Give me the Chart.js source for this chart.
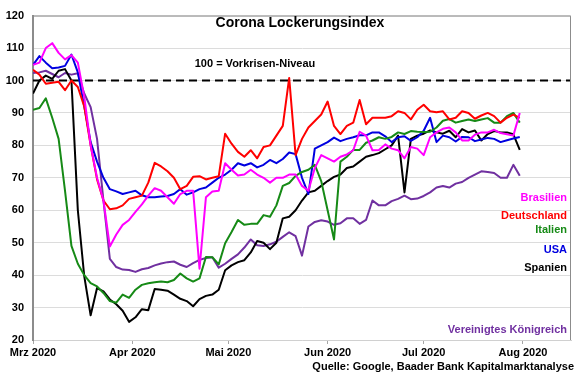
<!DOCTYPE html>
<html>
<head>
<meta charset="utf-8">
<script src="https://cdn.jsdelivr.net/npm/chart.js@4.4.1/dist/chart.umd.min.js"></script>
<style>
  html, body { margin: 0; padding: 0; background: #fff; }
  #wrap { width: 580px; height: 375px; }
</style>
</head>
<body>
<div id="wrap"><canvas id="lockerungChart" width="580" height="375"></canvas></div>
<script>
// Tage seit 1. März 2020 (jeder zweite Tag)
const days = []
for (let d = 0; d <= 152; d += 2) days.push(d)

const monthDays = [0, 31, 61, 92, 122, 153]
const monthLabels = ['Mrz 2020', 'Apr 2020', 'Mai 2020', 'Jun 2020', 'Jul 2020', 'Aug 2020']

const brasilien = [104.8, 105.5, 110, 111.5, 108.5, 106.5, 107.8, 105.5, 95, 80, 70, 63, 48.8, 52.5, 55.5, 57, 59.5, 61.8, 64.5, 66.8,
  66, 64, 62, 65, 66, 66, 42, 64, 65.8, 66, 74.5, 72.5, 70.7, 71, 72.5, 71, 70, 68.5, 70, 70,
  71, 71, 67.5, 66, 73, 77, 76, 75, 76.5, 77.2, 78.5, 84.2, 83, 78.5, 78.6, 80.3, 79, 78.5, 76, 79.5,
  79, 77, 82.5, 84, 85.1, 85.5, 84, 81.5, 81.5, 83.3, 84, 84, 84.8, 83.8, 83.4, 83, 90]

const deutschland = [103.3, 101.8, 99, 99.3, 99.6, 97, 100, 98, 92, 80, 69.5, 63, 60.3, 60.6, 61.5, 63.5, 64, 64.5, 68.5, 74.6,
  73.5, 72, 70, 66.5, 67.5, 70.3, 70.5, 69.5, 70, 70.5, 83.6, 80.5, 78, 76.5, 78.5, 76, 79.5, 80, 83, 86,
  100.8, 77, 82, 85.5, 87.5, 89.5, 93.5, 86, 83.5, 86, 87, 94, 86.5, 88.5, 88.5, 88.5, 89, 90.5, 90, 88,
  91, 92.5, 90.5, 90.2, 90.5, 88, 88.5, 90.5, 90, 88.2, 89.2, 90, 89, 87, 88.5, 89.5, 88.5]

const italien = [91, 91.5, 94.5, 88.5, 82, 66, 49, 43.5, 40, 37.5, 36.5, 34.5, 32, 31.5, 34, 33, 35.5, 37, 37.5, 37.8,
  38, 37.8, 38.5, 40.5, 39, 38, 39, 45.6, 45.5, 43.3, 49.8, 53.3, 57, 55.5, 55.8, 55.8, 58.5, 58, 61.5, 67.5,
  68.4, 70.6, 71.8, 72.5, 74, 69, 60, 51, 75, 76.5, 78.6, 78.6, 80.8, 81.5, 82.5, 82, 82.6, 84, 83.5, 84.4,
  84.2, 84.1, 84.2, 85.5, 87.6, 88.1, 87, 87.5, 88, 87.5, 88, 88.4, 87, 87, 89, 90, 87]

const usa = [104.8, 107.5, 105.5, 103.8, 104, 104.5, 108, 102.5, 92, 81, 75, 70, 66.5, 65.8, 65, 65.5, 66, 64.6, 64, 64,
  64.2, 64.4, 65, 66.5, 64.8, 65.5, 66.5, 67, 68.5, 70, 71, 72.5, 74.5, 73.8, 74.5, 73.2, 74, 75.5, 74.5, 75.8,
  77.8, 77.3, 70, 65, 79, 80, 81, 82.4, 81.3, 82, 82.5, 83.1, 83.1, 84, 84, 82.8, 81, 82.5, 82.8, 81.4,
  82.5, 84.5, 88.5, 81, 83, 82.5, 81.2, 82.6, 82.5, 81.3, 81.8, 82.3, 82, 81, 81.6, 82.1, 82.6]

const spanien = [96, 100, 101.5, 100.5, 103, 103.5, 100, 60, 39.7, 27.6, 36, 35, 32.5, 31, 29, 25.6, 27, 29.5, 29.2, 35.7,
  35.5, 35.2, 34, 32.7, 32, 30.4, 32.6, 33.6, 34, 35.5, 41.5, 43, 44, 44.6, 47, 50.5, 50, 48, 50, 57.5,
  58, 60, 63, 65.5, 66, 67.5, 69, 70.3, 71, 73, 73.5, 75, 76.5, 77, 77.6, 78.8, 80, 83, 65.5, 82,
  83, 83.6, 84.6, 84, 83.6, 84.5, 82.5, 85, 84, 84.6, 81.5, 83.5, 84.4, 84, 84, 83.4, 78.6]

const grossbritannien = [102.3, 102.5, 103, 102, 101, 102.3, 101.8, 102.2, 96, 91.8, 82, 63, 45, 42.5, 41.7, 41.6, 41, 41.8, 42.2, 43,
  43.6, 44, 44.2, 43.2, 42.5, 43.7, 44.7, 45.3, 45.5, 42.3, 43.5, 45, 46.4, 48.5, 51, 49.2, 49, 49.5, 50.3, 51.8,
  53.2, 52, 46, 55, 56.4, 56.9, 56.5, 55.5, 56, 57.5, 57.5, 55.8, 57, 63, 61.5, 61.5, 62.8, 63.5, 64.5, 63.4,
  63.6, 64.4, 65.5, 67, 67.5, 67, 68.2, 68.7, 70, 71, 72, 71.8, 71.5, 70, 70, 74, 70.6]

const series = [
  { label: 'Brasilien', values: brasilien, color: '#FF00FF', textY: 200.5 },
  { label: 'Deutschland', values: deutschland, color: '#FF0000', textY: 219 },
  { label: 'Italien', values: italien, color: '#168A16', textY: 233 },
  { label: 'USA', values: usa, color: '#0000E0', textY: 253 },
  { label: 'Spanien', values: spanien, color: '#000000', textY: 271 },
  { label: 'Vereinigtes Königreich', values: grossbritannien, color: '#7030A0', textY: 333 }
]

const FONT = "'Liberation Sans', Arial, sans-serif"
Chart.defaults.font.family = FONT
Chart.defaults.font.weight = 'bold'
Chart.defaults.font.size = 11
Chart.defaults.color = '#000'

// Texte, Rahmen und 100er-Linie
const overlay = {
  id: 'overlay',
  beforeDatasetsDraw(chart) {
    const { ctx, chartArea, scales } = chart
    const y100 = scales.y.getPixelForValue(100)
    ctx.save()
    ctx.strokeStyle = '#000'
    ctx.lineWidth = 2
    ctx.setLineDash([8, 5])
    ctx.beginPath()
    ctx.moveTo(chartArea.left, y100)
    ctx.lineTo(chartArea.right, y100)
    ctx.stroke()
    ctx.restore()
  },
  afterDraw(chart) {
    const { ctx, chartArea } = chart
    ctx.save()
    ctx.strokeStyle = '#8C8C8C'
    ctx.lineWidth = 1
    ctx.beginPath()
    ctx.moveTo(chartArea.left, chartArea.top + 0.5)
    ctx.lineTo(chartArea.right - 0.5, chartArea.top + 0.5)
    ctx.lineTo(chartArea.right - 0.5, chartArea.bottom)
    ctx.stroke()

    ctx.textBaseline = 'alphabetic'
    ctx.fillStyle = '#000'
    ctx.textAlign = 'center'
    ctx.font = 'bold 14px ' + FONT
    ctx.fillText('Corona Lockerungsindex', 300, 27)
    ctx.font = 'bold 11px ' + FONT
    ctx.fillText('100 = Vorkrisen-Niveau', 255, 67)

    ctx.textAlign = 'right'
    series.forEach(s => {
      ctx.fillStyle = s.color
      ctx.fillText(s.label, 567, s.textY)
    })
    ctx.fillStyle = '#000'
    ctx.fillText('Quelle: Google, Baader Bank Kapitalmarktanalyse', 574, 370)
    ctx.restore()
  }
}

const ctx = document.getElementById('lockerungChart')

new Chart(ctx, {
  type: 'line',
  data: {
    datasets: series.map(s => ({
      label: s.label,
      data: days.map((d, i) => ({ x: d, y: s.values[i] })),
      borderColor: s.color,
      backgroundColor: s.color,
      borderWidth: 2,
      borderJoinStyle: 'round',
      pointRadius: 0,
      tension: 0,
      fill: false
    }))
  },
  options: {
    responsive: false,
    animation: false,
    devicePixelRatio: 1,
    layout: { padding: { top: 10, right: 9, left: 0, bottom: 0 } },
    plugins: {
      legend: { display: false },
      tooltip: { enabled: false }
    },
    scales: {
      x: {
        type: 'linear',
        min: 0,
        max: 168,
        afterBuildTicks: axis => { axis.ticks = monthDays.map(v => ({ value: v })) },
        afterFit: axis => { axis.height = 35 },
        ticks: {
          autoSkip: false,
          maxRotation: 0,
          padding: 2,
          callback: (value, index) => monthLabels[index]
        },
        grid: { drawOnChartArea: false, drawTicks: true, tickLength: 4, color: '#A6A6A6' },
        border: { color: '#D0D0D0', width: 1 }
      },
      y: {
        min: 20,
        max: 120,
        afterFit: axis => { axis.width = 33 },
        ticks: { stepSize: 10, padding: 9 },
        grid: { color: '#DCDCDC', drawTicks: false },
        border: { color: '#8C8C8C', width: 2 }
      }
    }
  },
  plugins: [overlay]
})
</script>
</body>
</html>
